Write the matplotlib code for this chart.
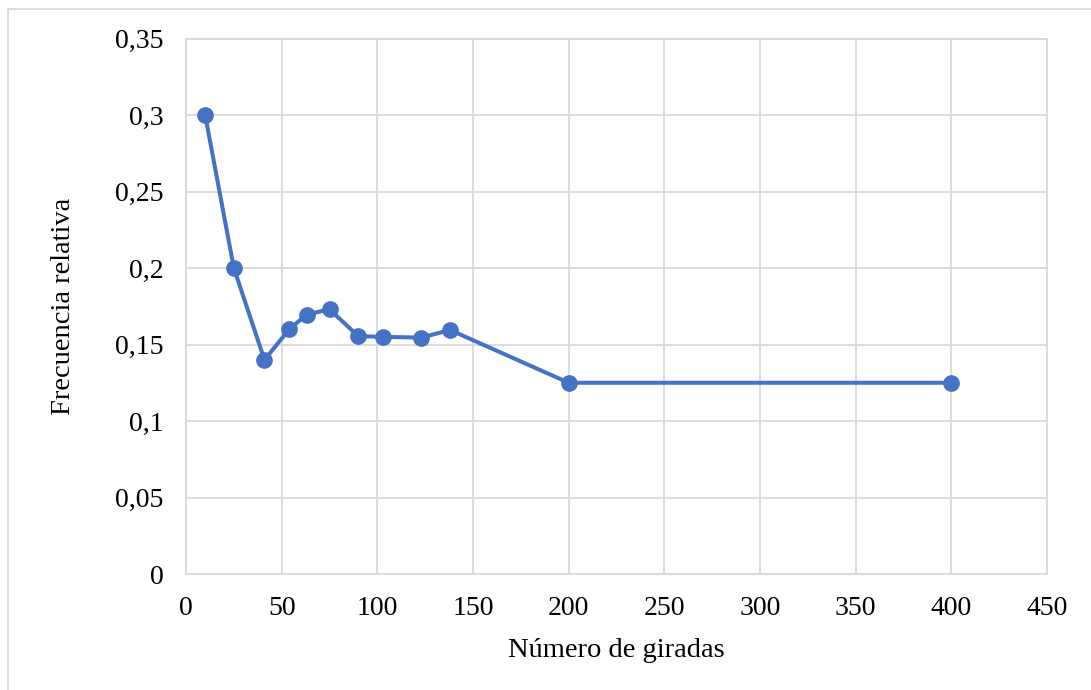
import numpy as np
import matplotlib
matplotlib.use('Agg')
import matplotlib.pyplot as plt
from matplotlib.lines import Line2D
from matplotlib.ticker import FuncFormatter

giradas = [10, 25, 41, 54, 63, 75, 90, 103, 123, 138, 200, 400]
frecuencia = [0.30, 0.20, 0.14, 0.16, 0.1695, 0.173, 0.1555, 0.155, 0.1545, 0.1595, 0.125, 0.125]

x_ticks = np.arange(0, 451, 50)
y_ticks = [0, 0.05, 0.1, 0.15, 0.2, 0.25, 0.3, 0.35]

plt.rcParams['font.family'] = ['Liberation Serif', 'DejaVu Serif']

fig = plt.figure(figsize=(10.91, 6.90), dpi=100)
ax = fig.add_axes([186 / 1091, 1 - 574 / 690, (1047 - 186) / 1091, (574 - 38.5) / 690])

grid_col = '#d9d9d9'
ax.plot(giradas, frecuencia, color='#4472C4', lw=2.9, marker='o', ms=11, zorder=3)

ax.set_xlim(0, 450)
ax.set_ylim(0, 0.35)
ax.set_xticks(x_ticks)
ax.set_yticks(y_ticks)
ax.yaxis.set_major_formatter(FuncFormatter(lambda v, p: ('%g' % round(v, 2)).replace('.', ',')))
ax.grid(True, color=grid_col, lw=1.3)
ax.set_axisbelow(True)
for s in ['top', 'right', 'left', 'bottom']:
    ax.spines[s].set_color(grid_col)
    ax.spines[s].set_linewidth(1.3)
ax.tick_params(length=0, labelsize=20, pad=16)

ax.set_xlabel('Número de giradas', fontsize=20.5, labelpad=12)
ax.set_ylabel('Frecuencia relativa', fontsize=20.5, labelpad=28)

# marco del gráfico
fig.add_artist(Line2D([8 / 1091, 8 / 1091], [0, 1 - 9 / 690], color=grid_col, lw=1.3, transform=fig.transFigure))
fig.add_artist(Line2D([8 / 1091, 1], [1 - 9 / 690, 1 - 9 / 690], color=grid_col, lw=1.3, transform=fig.transFigure))

fig.savefig('out.png', dpi=100)
